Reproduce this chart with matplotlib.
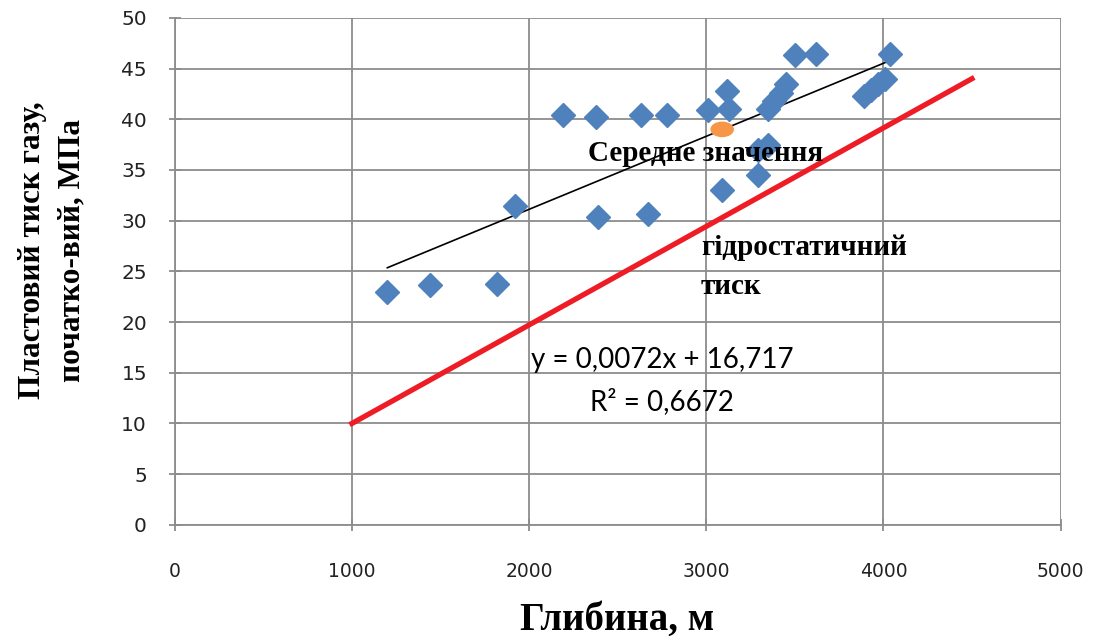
import numpy as np
import matplotlib.pyplot as plt
from matplotlib.patches import Ellipse

# глибина, м / пластовий тиск, МПа
depth = [1200, 1440, 1820, 1920, 2190, 2380, 2390, 2630, 2670, 2780,
         3010, 3090, 3120, 3130, 3290, 3290, 3350, 3350, 3380, 3420,
         3450, 3500, 3620, 3890, 3930, 3970, 4010, 4040]
pressure = [23.0, 23.7, 23.8, 31.4, 40.4, 40.2, 30.4, 40.4, 30.7, 40.4,
            40.9, 33.0, 42.8, 41.0, 34.5, 37.0, 37.5, 41.0, 41.8, 42.6,
            43.5, 46.3, 46.4, 42.3, 42.9, 43.5, 44.0, 46.4]

hydro_x = [1000, 4500]
hydro_y = [10, 44]

mean_x, mean_y = 3090, 39.0
k, b = 0.0072, 16.717   # лінійний тренд

fig = plt.figure(figsize=(10.99, 6.37), dpi=100)
ax = fig.add_axes([0.159, 0.176, 0.806, 0.796])

ax.grid(True, color='#8c8c8c', lw=1.3)
ax.set_axisbelow(True)

xt = np.array([min(depth), max(depth)])
ax.plot(xt, k*xt + b, color='black', lw=1.2, zorder=3)
ax.plot(hydro_x, hydro_y, color='#ee1c25', lw=3.8, zorder=2)
ax.plot(depth, pressure, 'D', color='#4f81bd', ms=12, mec='#4f81bd', zorder=4)
ax.add_patch(Ellipse((mean_x, mean_y), 125, 1.4, color='#f79646', zorder=5))

ax.set_xlim(0, 5000)
ax.set_ylim(0, 50)
ax.set_xticks(range(0, 5001, 1000))
ax.set_yticks(range(0, 51, 5))
for s in ['top', 'right']:
    ax.spines[s].set_visible(False)
for s in ['left', 'bottom']:
    ax.spines[s].set_color('#8c8c8c')
    ax.spines[s].set_linewidth(1.3)
ax.tick_params(direction='inout', length=8, width=1.3, color='#8c8c8c',
               labelcolor='#222222')
ax.tick_params(axis='x', pad=23, labelsize=13.5)
ax.tick_params(axis='y', pad=16, labelsize=14.5)

serif = 'Liberation Serif'
fig.text(617/1099, 1 - 630/637, 'Глибина, м', family=serif, fontweight='bold',
         fontsize=28, ha='center', va='baseline')
fig.text(33/1099, 0.607, 'Пластовий тиск газу,', family=serif, fontweight='bold',
         fontsize=22.5, rotation=90, ha='center', va='center')
fig.text(72/1099, 0.607, 'початко-вий, МПа', family=serif, fontweight='bold',
         fontsize=22.5, rotation=90, ha='center', va='center')

ax.text(2330, 35.9, 'Середне значення', family=serif,
        fontweight='bold', fontsize=21, va='baseline', zorder=6)
ax.text(2970, 26.6, 'гідростатичний', family=serif,
        fontweight='bold', fontsize=21, va='baseline')
ax.text(2970, 22.8, 'тиск', family=serif,
        fontweight='bold', fontsize=21, va='baseline')
ax.text(2750, 16.3, 'y = 0,0072x + 16,717', family='Lato', fontsize=20,
        ha='center', va='center')
ax.text(2750, 12.2, 'R² = 0,6672', family='Lato', fontsize=20,
        ha='center', va='center')

fig.savefig('out.png', dpi=100)
